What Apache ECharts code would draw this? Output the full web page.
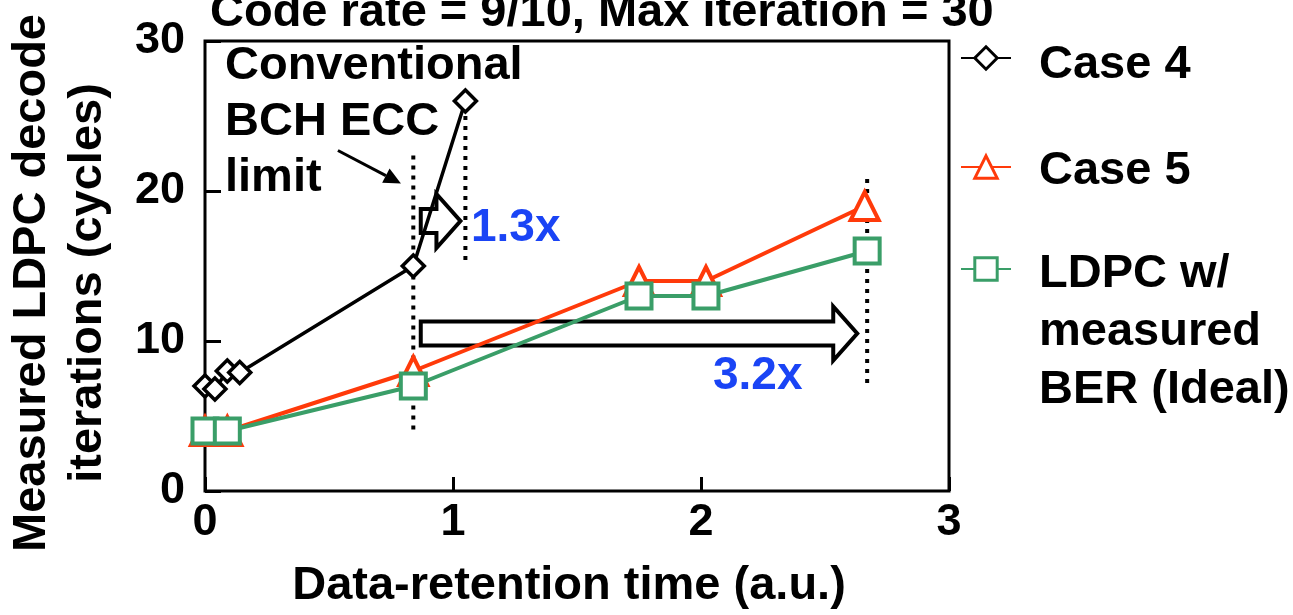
<!DOCTYPE html>
<html>

<head>
    <meta charset="utf-8" />
    <script src="https://cdn.jsdelivr.net/npm/echarts@6/dist/echarts.min.js"></script>
    <style>
        html, body { margin: 0; padding: 0; background: #fff; }
    </style>
</head>

<body>
    <div id="main" style="width:1293px;height:615px;"></div>
    <script>
        // values
        var case4X = [0.0, 0.04, 0.09, 0.14, 0.84, 1.05];
        var case4Y = [7, 6.8, 8, 7.9, 15, 26];
        var case5X = [0.0, 0.09, 0.84, 1.75, 2.02, 2.66];
        var case5Y = [4, 4, 8, 14, 14, 19];
        var idealX = [0.0, 0.09, 0.84, 1.75, 2.02, 2.67];
        var idealY = [4, 4, 7, 13, 13, 16];

        // dotted "limit" markers
        var limitX = [0.84, 1.05, 2.67];
        var limitLow = [4.1, 15.4, 7.2];
        var limitHigh = [22.6, 25.3, 21.1];

        // hollow block arrows: from x, to x, at y
        var arrowFrom = [0.87, 0.87];
        var arrowTo = [1.03, 2.63];
        var arrowY = [18, 10.5];

        // pointer from the "limit" note to the dotted line
        var pointerFrom = [0.536, 22.7];
        var pointerTo = [0.79, 20.5];

        var xTicks = [0, 1, 2, 3];
        var yTicks = [0, 10, 20, 30];

        var FONT = 'Liberation Sans, Arial, sans-serif';
        var RED = '#ff3a0a';
        var GREEN = '#3a9e68';
        var BLUE = '#1a44f5';

        function zip(xs, ys) {
            return xs.map(function (x, i) { return [x, ys[i]]; });
        }

        var myChart = echarts.init(document.getElementById('main'));

        var dotted = limitX.map(function (x, i) {
            return {
                type: 'line',
                data: [[x, limitLow[i]], [x, limitHigh[i]]],
                symbol: 'none',
                silent: true,
                lineStyle: { color: '#000', width: 4, type: [4, 6], cap: 'butt' },
                z: 2
            };
        });

        // one legend per entry so each can sit where the original has it;
        // a transparent spacer line pushes the text below the icon
        function legendBox(name, top, gap, lh) {
            return {
                data: [name], orient: 'vertical', left: 960, top: top, padding: 0,
                itemWidth: 50, itemHeight: 28,
                itemStyle: { color: '#fff', borderWidth: 3 },
                formatter: function (n) {
                    return '{s|.}\n' + n.split('\n').map(function (t) { return '{t|' + t + '}'; }).join('\n');
                },
                textStyle: {
                    padding: [0, 0, 0, 23],
                    fontFamily: FONT, fontWeight: 'bold', fontSize: 47, color: '#000',
                    rich: {
                        s: { fontSize: 4, lineHeight: gap, color: 'rgba(0,0,0,0)' },
                        t: { fontFamily: FONT, fontWeight: 'bold', fontSize: 47, lineHeight: lh, color: '#000' }
                    }
                }
            };
        }

        var option = {
            animation: false,
            title: {
                text: 'Code rate = 9/10, Max iteration = 30',
                left: 210,
                top: -15,
                padding: 0,
                textStyle: { fontFamily: FONT, fontWeight: 'bold', fontSize: 47, lineHeight: 56, color: '#000' }
            },
            grid: {
                left: 205, right: 344, top: 41, bottom: 124,
                outerBoundsMode: 'none', containLabel: false,
                show: true, borderColor: '#000', borderWidth: 3, backgroundColor: 'transparent'
            },
            legend: [
                legendBox('Case 4', 28, 14, 56),
                legendBox('Case 5', 137, 8, 56),
                legendBox('LDPC w/\nmeasured\nBER (Ideal)', 180, 126, 58)
            ],
            xAxis: {
                type: 'value', min: 0, max: 3, interval: 1,
                name: 'Data-retention time (a.u.)',
                nameLocation: 'middle', nameGap: 67,
                nameTextStyle: { fontFamily: FONT, fontWeight: 'bold', fontSize: 47, lineHeight: 56, color: '#000', padding: [0, 16, 0, 0] },
                axisLine: { show: false },
                axisTick: { show: true, inside: true, length: 14, lineStyle: { color: '#000', width: 3 } },
                splitLine: { show: false },
                axisLabel: {
                    margin: 9, fontFamily: FONT, fontWeight: 'bold', fontSize: 45, lineHeight: 45, color: '#000',
                    formatter: function (v) { return xTicks.indexOf(v) >= 0 ? String(v) : ''; }
                }
            },
            yAxis: {
                type: 'value', min: 0, max: 30, interval: 10,
                name: 'Measured LDPC decode\niterations (cycles)',
                nameLocation: 'middle', nameGap: 89, nameRotate: 90,
                nameTextStyle: { fontFamily: FONT, fontWeight: 'bold', fontSize: 47, lineHeight: 56, color: '#000', padding: [0, 34, 0, 0] },
                axisLine: { show: false },
                axisTick: { show: true, inside: true, length: 16, lineStyle: { color: '#000', width: 3 } },
                splitLine: { show: false },
                axisLabel: {
                    margin: 20, fontFamily: FONT, fontWeight: 'bold', fontSize: 45, color: '#000',
                    formatter: function (v) { return yTicks.indexOf(v) >= 0 ? String(v) : ''; }
                }
            },
            graphic: [
                {
                    type: 'text', left: 225, top: 38, silent: true,
                    style: { text: 'Conventional\nBCH ECC\nlimit', font: 'bold 47px ' + FONT, lineHeight: 56, fill: '#000' }
                },
                {
                    type: 'text', left: 471, top: 200, silent: true,
                    style: { text: '1.3x', font: 'bold 46px ' + FONT, lineHeight: 56, fill: BLUE }
                },
                {
                    type: 'text', left: 713, top: 348, silent: true,
                    style: { text: '3.2x', font: 'bold 46px ' + FONT, lineHeight: 56, fill: BLUE }
                }
            ],
            series: [
                {
                    type: 'custom',
                    silent: true,
                    z: 1,
                    clip: false,
                    encode: { x: [0, 1], y: 2 },
                    data: arrowFrom.map(function (x, i) { return [x, arrowTo[i], arrowY[i]]; }),
                    renderItem: function (params, api) {
                        var p0 = api.coord([api.value(0), api.value(2)]);
                        var p1 = api.coord([api.value(1), api.value(2)]);
                        var h = 12, H = 27, L = 24;
                        var x0 = p0[0], x1 = p1[0], y = p0[1];
                        return {
                            type: 'polygon',
                            shape: {
                                points: [[x0, y - h], [x1 - L, y - h], [x1 - L, y - H], [x1, y],
                                    [x1 - L, y + H], [x1 - L, y + h], [x0, y + h]]
                            },
                            style: { fill: '#fff', stroke: '#000', lineWidth: 4, lineJoin: 'miter' }
                        };
                    }
                },
                {
                    type: 'custom',
                    silent: true,
                    z: 5,
                    clip: false,
                    encode: { x: [0, 2], y: [1, 3] },
                    data: [pointerFrom.concat(pointerTo)],
                    renderItem: function (params, api) {
                        var a = api.coord([api.value(0), api.value(1)]);
                        var b = api.coord([api.value(2), api.value(3)]);
                        var dx = b[0] - a[0], dy = b[1] - a[1];
                        var len = Math.sqrt(dx * dx + dy * dy);
                        var ux = dx / len, uy = dy / len;
                        var hl = 17, hw = 8;
                        var bx = b[0] - ux * hl, by = b[1] - uy * hl;
                        return {
                            type: 'group',
                            children: [
                                {
                                    type: 'line',
                                    shape: { x1: a[0], y1: a[1], x2: bx, y2: by },
                                    style: { stroke: '#000', lineWidth: 3 }
                                },
                                {
                                    type: 'polygon',
                                    shape: { points: [[b[0], b[1]], [bx - uy * hw, by + ux * hw], [bx + uy * hw, by - ux * hw]] },
                                    style: { fill: '#000' }
                                }
                            ]
                        };
                    }
                }
            ].concat(dotted).concat([
                {
                    name: 'Case 4',
                    type: 'line',
                    data: zip(case4X, case4Y),
                    symbol: 'diamond', symbolSize: 22,
                    clip: false, z: 3,
                    lineStyle: { color: '#000', width: 3.5 },
                    itemStyle: { color: '#fff', borderColor: '#000', borderWidth: 3.5 }
                },
                {
                    name: 'Case 5',
                    type: 'line',
                    data: zip(case5X, case5Y),
                    symbol: 'triangle', symbolSize: 28,
                    clip: false, z: 3,
                    lineStyle: { color: RED, width: 4 },
                    itemStyle: { color: '#fff', borderColor: RED, borderWidth: 4 }
                },
                {
                    name: 'LDPC w/\nmeasured\nBER (Ideal)',
                    type: 'line',
                    data: zip(idealX, idealY),
                    symbol: 'rect', symbolSize: 25,
                    clip: false, z: 4,
                    lineStyle: { color: GREEN, width: 4 },
                    itemStyle: { color: '#fff', borderColor: GREEN, borderWidth: 4 }
                }
            ])
        };

        myChart.setOption(option);
    </script>
</body>

</html>
